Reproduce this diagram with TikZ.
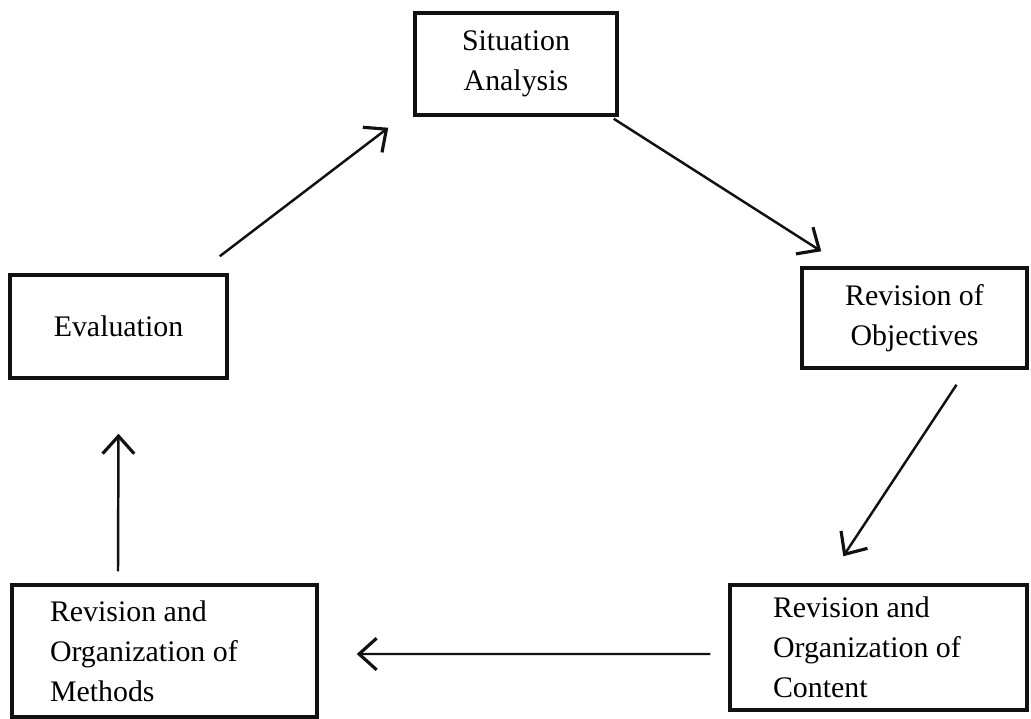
\documentclass[tikz,border=0pt]{standalone}
\usepackage{fontspec}
\setmainfont{Liberation Serif}
\usepackage{tikz}
\usetikzlibrary{positioning,arrows.meta,calc}
\definecolor{ink}{HTML}{111111}

\tikzset{
  stagebox/.style={draw=ink, line width=2pt, rectangle, align=center,
    font=\fontsize{17pt}{22.8pt}\selectfont, inner sep=0pt},
  leftbox/.style={stagebox, align=flush left},
  flow/.style={draw=ink, line width=1.4pt, -{Straight Barb[length=10pt,width=18pt,line width=1.8pt]}}
}

\begin{document}
\begin{tikzpicture}[x=0.02cm, y=-0.02cm]
        \useasboundingbox (0,0) rectangle (1031,718);
        % the five stages of the cycle
        \node[stagebox, minimum width=4.04cm, minimum height=2.04cm] (situation) at (516,64) {Situation\\Analysis};
        \node[stagebox, minimum width=4.5cm, minimum height=2cm] (objectives) at (914.5,318) {Revision of\\Objectives};
        \node[leftbox, text width=4.22cm, inner xsep=0.86cm, minimum height=2.5cm] (content) at (878.5,647.5)
          {Revision and\\Organization of\\Content};
        \node[leftbox, text width=4.58cm, inner xsep=0.76cm, minimum height=2.64cm] (methods) at (164.5,651)
          {Revision and\\Organization of\\Methods};
        \node[stagebox, minimum width=4.34cm, minimum height=2.06cm] (evaluation) at (118.5,326.5) {Evaluation};
        % arrows round the cycle
        \draw[flow] ($(evaluation.north east)+(-9,-17)$) -- ($(situation.south west)+(-25,11)$);
        \draw[flow] ($(situation.south east)+(-5,2)$) -- ($(objectives.north west)+(21,-15)$);
        \draw[flow] ($(objectives.south)+(42,15)$) -- ($(content.north west)+(115,-27)$);
        \draw[flow] ($(content.west)+(-18,6.5)$) -- ($(methods.east)+(38,3)$);
        \draw[flow] ($(methods.north)+(-46.5,-12)$) -- ($(evaluation.south)+(0,54)$);
      \end{tikzpicture}
\end{document}
